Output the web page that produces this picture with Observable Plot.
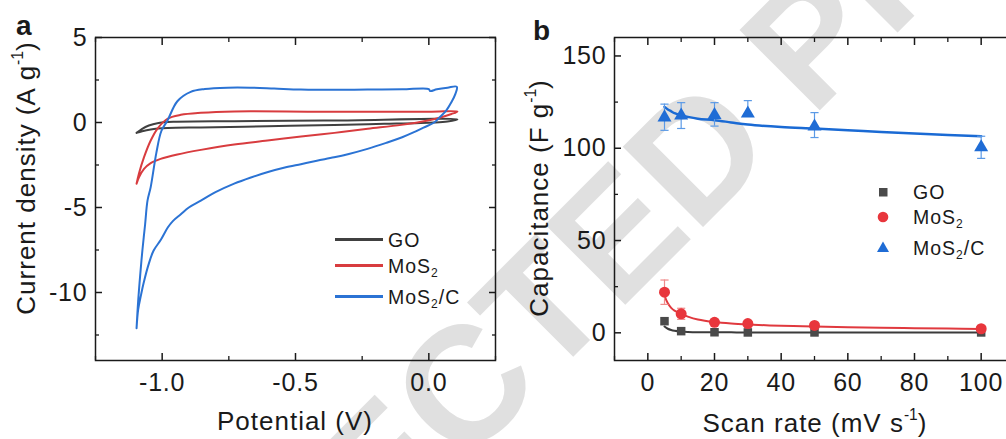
<!DOCTYPE html>
<html>
<head>
<meta charset="utf-8">
<script src="https://cdn.jsdelivr.net/npm/d3@7"></script>
<script src="https://cdn.jsdelivr.net/npm/@observablehq/plot@0.6"></script>
<style>
  html, body { margin: 0; padding: 0; background: #fff; }
  #fig { position: relative; width: 1006px; height: 439px; overflow: hidden; background: #fff;
         font-family: "Liberation Sans", Arial, sans-serif; color: #1a1a1a; }
  .abs { position: absolute; }
  .panel-label { font-weight: bold; font-size: 28px; line-height: 28px; }
  .title { font-size: 26px; line-height: 26px; letter-spacing: 1px; white-space: nowrap; }
  .ytitle { transform: translate(-50%, -50%) rotate(-90deg); }
  .xtitle { transform: translateX(-50%); }
  .title sup { font-size: 0.6em; vertical-align: 0.75em; line-height: 0; letter-spacing: 0; }
  .leg { font-size: 19.5px; line-height: 22px; letter-spacing: 1px; white-space: nowrap; }
  .leg sub { font-size: 0.62em; vertical-align: -0.35em; line-height: 0; }
  .swatch { height: 2.5px; width: 48px; }
  #panelA svg, #panelB svg { max-width: none !important; }
</style>
</head>
<body>
<div id="fig">
  <svg class="abs" id="wm" width="1006" height="439" style="left:0;top:0"></svg>
  <div class="abs" id="panelA" style="left:0;top:0;width:500px"></div>
  <div class="abs" id="panelB" style="left:500px;top:0;width:520px"></div>

  <div class="abs panel-label" style="left:16px;top:12px">a</div>
  <div class="abs panel-label" style="left:533px;top:17px">b</div>

  <div class="abs title ytitle" style="left:26px;top:178px">Current density (A g<sup>-1</sup>)</div>
  <div class="abs title xtitle" style="left:295px;top:408px">Potential (V)</div>
  <div class="abs title ytitle" style="left:539px;top:198px">Capacitance (F g<sup>-1</sup>)</div>
  <div class="abs title xtitle" style="left:815px;top:410px">Scan rate (mV s<sup>-1</sup>)</div>

  <!-- panel a legend -->
  <div class="abs swatch" style="left:335px;top:238px;background:#404040"></div>
  <div class="abs leg" style="left:388px;top:229px">GO</div>
  <div class="abs swatch" style="left:335px;top:264px;background:#d83c3f"></div>
  <div class="abs leg" style="left:388px;top:255px">MoS<sub>2</sub></div>
  <div class="abs swatch" style="left:335px;top:295px;background:#2b73d4"></div>
  <div class="abs leg" style="left:388px;top:286px">MoS<sub>2</sub>/C</div>

  <!-- panel b legend -->
  <svg class="abs" style="left:876px;top:185px" width="14" height="14"><rect x="3" y="3" width="8.5" height="8.5" fill="#4a4a4a"/></svg>
  <div class="abs leg" style="left:913px;top:181px">GO</div>
  <svg class="abs" style="left:876px;top:210px" width="14" height="14"><circle cx="7" cy="7" r="5.3" fill="#e8363c"/></svg>
  <div class="abs leg" style="left:913px;top:206px">MoS<sub>2</sub></div>
  <svg class="abs" style="left:876px;top:240px" width="14" height="14"><path d="M7,1.5L13,12H1Z" fill="#1f6cd5"/></svg>
  <div class="abs leg" style="left:913px;top:237px">MoS<sub>2</sub>/C</div>
</div>

<script>
// ---------- Panel a: cyclic voltammograms (potential V, current density A/g) ----------
const goV = [-1.096, -1.075, -1.05, -1.018, -0.956, -0.73, -0.355, 0.107,
             0.07, 0.02, -0.167, -0.355, -0.605, -0.855, -0.98, -1.043, -1.075, -1.096];
const goJ = [-0.61, -0.37, -0.18, -0.04, 0.04, 0.08, 0.12, 0.18,
             0.06, 0.0, -0.08, -0.14, -0.22, -0.29, -0.33, -0.41, -0.51, -0.61];

const mosV = [-1.096, -1.087, -1.068, -1.043, -1.018, -0.98, -0.93, -0.855, -0.73, -0.4, 0.0, 0.107,
              0.085, 0.047, -0.003, -0.103, -0.229, -0.354, -0.479, -0.605, -0.73, -0.855, -0.943,
              -1.006, -1.043, -1.068, -1.087, -1.096];
const mosJ = [-3.6, -3.0, -2.04, -1.06, -0.37, 0.22, 0.45, 0.57, 0.65, 0.63, 0.63, 0.65,
              0.5, 0.31, 0.12, -0.14, -0.37, -0.61, -0.82, -1.06, -1.29, -1.61, -1.88,
              -2.14, -2.39, -2.73, -3.22, -3.6];

const mcV = [-1.096, -1.09, -1.082, -1.074, -1.064, -1.055, -1.043, -1.022, -1.003, -0.98, -0.943,
             -0.893, -0.84, -0.755, -0.67, -0.58, -0.48, -0.35, -0.23, -0.1, 0.0, 0.005, 0.03, 0.07, 0.105,
             0.1, 0.085, 0.065, 0.04, 0.02, -0.02, -0.06, -0.1, -0.16, -0.23, -0.3, -0.355, -0.42, -0.48,
             -0.54, -0.6, -0.67, -0.73, -0.8, -0.855, -0.9, -0.93, -0.96, -0.979, -1.005, -1.032, -1.05,
             -1.07, -1.08, -1.09, -1.096];
const mcJ = [-12.1, -10.5, -8.9, -7.5, -6.0, -4.6, -3.8, -1.8, -0.5, 0.12, 1.25,
             1.8, 1.97, 2.05, 2.05, 2.0, 1.94, 1.92, 1.94, 1.95, 1.97, 1.85, 1.95, 2.05, 2.1,
             1.7, 1.2, 0.7, 0.3, 0.0, -0.3, -0.6, -0.87, -1.2, -1.55, -1.85, -2.05, -2.25, -2.45,
             -2.65, -2.9, -3.25, -3.6, -4.1, -4.6, -5.0, -5.4, -5.8, -6.18, -6.9, -7.53, -8.3,
             -9.47, -10.2, -11.0, -12.1];

const xTicksA = [-1.0, -0.5, 0.0];
const xMinorA = [-1.25, -0.75, -0.25, 0.25];
const yTicksA = [5, 0, -5, -10];
const yMinorA = [2.5, -2.5, -7.5, -12.5];

// ---------- Panel b: specific capacitance vs scan rate ----------
const scanRates = [5, 10, 20, 30, 50, 100];
const capGO = [6.3, 0.9, 0.3, 0.2, 0.2, 0.2];
const capMoS2 = [22, 10.3, 5.7, 5.0, 4.0, 2.2];
const errMoS2 = [6.6, 3.0, 1.0, 0.8, 0.6, 0.5];
const capMoS2C = [116.7, 117.7, 118, 118.8, 111.8, 100.5];
const errMoS2CLow = [7.0, 7.0, 6.0, 0, 6.0, 6.0];
const errMoS2CHigh = [7.2, 7.0, 6.7, 7.0, 7.5, 6.0];

// fitted trend lines
const fitRates = [5, 6, 7, 8, 10, 12, 15, 20, 25, 30, 40, 50, 60, 70, 80, 90, 100];
const fitGO = [3.4, 2.2, 1.5, 1.1, 0.7, 0.5, 0.35, 0.3, 0.25, 0.2, 0.2, 0.2, 0.2, 0.2, 0.2, 0.2, 0.2];
const fitMoS2 = [20, 16, 13.5, 12, 10.3, 8.8, 7.2, 5.8, 5.0, 4.5, 3.8, 3.4, 3.0, 2.7, 2.5, 2.3, 2.1];
const fitMoS2C = [122.4, 121, 120, 119, 117.9, 117, 116, 115.2, 114, 112.8, 111.5, 110.7, 109.8, 108.8, 108, 107.2, 106.5];

const xTicksB = [0, 20, 40, 60, 80, 100];
const xMinorB = [-10, 10, 30, 50, 70, 90, 110];
const yTicksB = [0, 50, 100, 150];
const yMinorB = [25, 75, 125];

// ---------- styling ----------
const ink = "#1a1a1a";
const cGO = "#404040", cMoS2 = "#d83c3f", cMoS2C = "#2b73d4";
const font = "'Liberation Sans', Arial, sans-serif";
const baseStyle = {background: "transparent", fontFamily: font, fontSize: "25px",
                   letterSpacing: "0.8px", color: ink, overflow: "visible", maxWidth: "none"};
const blank = () => "";
const smooth = "catmull-rom";

// horizontal error-bar cap drawn as a dot symbol
const capSymbol = {draw(ctx, size) { const w = Math.sqrt(size); ctx.moveTo(-w, 0); ctx.lineTo(w, 0); }};

function boxAxes(xMajor, xMinor, yMajor, yMinor, xFmt, yFmt) {
  return [
    Plot.frame({stroke: ink, strokeWidth: 1.5}),
    Plot.axisX({ticks: xMajor, anchor: "bottom", tickSize: -7, tickPadding: 20, tickFormat: xFmt, strokeWidth: 1.5, label: null}),
    Plot.axisX({ticks: xMajor, anchor: "top", tickSize: -7, tickFormat: blank, strokeWidth: 1.5, label: null}),
    Plot.axisX({ticks: xMinor, anchor: "bottom", tickSize: -4, tickFormat: blank, strokeWidth: 1.3, label: null}),
    Plot.axisX({ticks: xMinor, anchor: "top", tickSize: -4, tickFormat: blank, strokeWidth: 1.3, label: null}),
    Plot.axisY({ticks: yMajor, anchor: "left", tickSize: -7, tickPadding: 15, tickFormat: yFmt, strokeWidth: 1.5, label: null}),
    Plot.axisY({ticks: yMajor, anchor: "right", tickSize: -7, tickFormat: blank, strokeWidth: 1.5, label: null}),
    Plot.axisY({ticks: yMinor, anchor: "left", tickSize: -4, tickFormat: blank, strokeWidth: 1.3, label: null}),
    Plot.axisY({ticks: yMinor, anchor: "right", tickSize: -4, tickFormat: blank, strokeWidth: 1.3, label: null})
  ];
}

const plotA = Plot.plot({
  width: 500, height: 439,
  marginLeft: 95, marginRight: 5, marginTop: 37, marginBottom: 79,
  x: {domain: [-1.25, 0.25], label: null},
  y: {domain: [-14, 5], label: null},
  style: baseStyle,
  marks: [
    Plot.line({length: goV.length}, {x: goV, y: goJ, stroke: cGO, strokeWidth: 2, curve: smooth}),
    Plot.line({length: mosV.length}, {x: mosV, y: mosJ, stroke: cMoS2, strokeWidth: 2, curve: smooth}),
    Plot.line({length: mcV.length}, {x: mcV, y: mcJ, stroke: cMoS2C, strokeWidth: 2, curve: smooth}),
    ...boxAxes(xTicksA, xMinorA, yTicksA, yMinorA, d => d.toFixed(1), d => String(d))
  ]
});
document.getElementById("panelA").append(plotA);

const n = scanRates.length;
const plotB = Plot.plot({
  width: 520, height: 439,
  marginLeft: 114, marginRight: 6, marginTop: 37, marginBottom: 79,
  x: {domain: [-10, 110], label: null},
  y: {domain: [-15, 160], label: null},
  style: baseStyle,
  marks: [
    // fitted curves
    Plot.line({length: fitRates.length}, {x: fitRates, y: fitGO, stroke: "#3b3b3b", strokeWidth: 2, curve: smooth}),
    Plot.line({length: fitRates.length}, {x: fitRates, y: fitMoS2, stroke: "#e0393e", strokeWidth: 2, curve: smooth}),
    Plot.line({length: fitRates.length}, {x: fitRates, y: fitMoS2C, stroke: "#1a6ad4", strokeWidth: 2.5, curve: smooth}),
    // error bars
    Plot.ruleX({length: n}, {x: scanRates, y1: scanRates.map((_, i) => capMoS2[i] - errMoS2[i]),
      y2: scanRates.map((_, i) => capMoS2[i] + errMoS2[i]), stroke: "#f08a8a", strokeWidth: 1.2}),
    Plot.dot({length: n}, {x: scanRates, y: scanRates.map((_, i) => capMoS2[i] + errMoS2[i]),
      symbol: capSymbol, r: 2.3, stroke: "#f08a8a", fill: "none", strokeWidth: 1.2}),
    Plot.dot({length: n}, {x: scanRates, y: scanRates.map((_, i) => capMoS2[i] - errMoS2[i]),
      symbol: capSymbol, r: 2.3, stroke: "#f08a8a", fill: "none", strokeWidth: 1.2}),
    Plot.ruleX({length: n}, {x: scanRates, y1: scanRates.map((_, i) => capMoS2C[i] - errMoS2CLow[i]),
      y2: scanRates.map((_, i) => capMoS2C[i] + errMoS2CHigh[i]), stroke: "#5b9ae6", strokeWidth: 1.2}),
    Plot.dot({length: n}, {x: scanRates, y: scanRates.map((_, i) => capMoS2C[i] + errMoS2CHigh[i]),
      symbol: capSymbol, r: 2.3, stroke: "#5b9ae6", fill: "none", strokeWidth: 1.2}),
    Plot.dot({length: n}, {x: scanRates, y: scanRates.map((_, i) => capMoS2C[i] - errMoS2CLow[i]),
      symbol: capSymbol, r: 2.3, stroke: "#5b9ae6", fill: "none", strokeWidth: 1.2}),
    // measured points
    Plot.dot({length: n}, {x: scanRates, y: capGO, symbol: "square", r: 4.8, fill: "#4a4a4a"}),
    Plot.dot({length: n}, {x: scanRates, y: capMoS2, symbol: "circle", r: 5.5, fill: "#e8363c"}),
    Plot.dot({length: n}, {x: scanRates, y: capMoS2C, symbol: "triangle", r: 5.2, fill: "#1f6cd5"}),
    ...boxAxes(xTicksB, xMinorB, yTicksB, yMinorB, d => String(d), d => String(d))
  ]
});
document.getElementById("panelB").append(plotB);

// diagonal proof stamp behind both panels
d3.select("#wm").append("text")
  .attr("transform", "translate(-128,1058) rotate(-45)")
  .attr("font-family", font)
  .attr("font-size", 165)
  .attr("font-weight", "bold")
  .attr("fill", "#e0e0e0")
  .text("UNCORRECTED PROOF");
</script>
</body>
</html>
